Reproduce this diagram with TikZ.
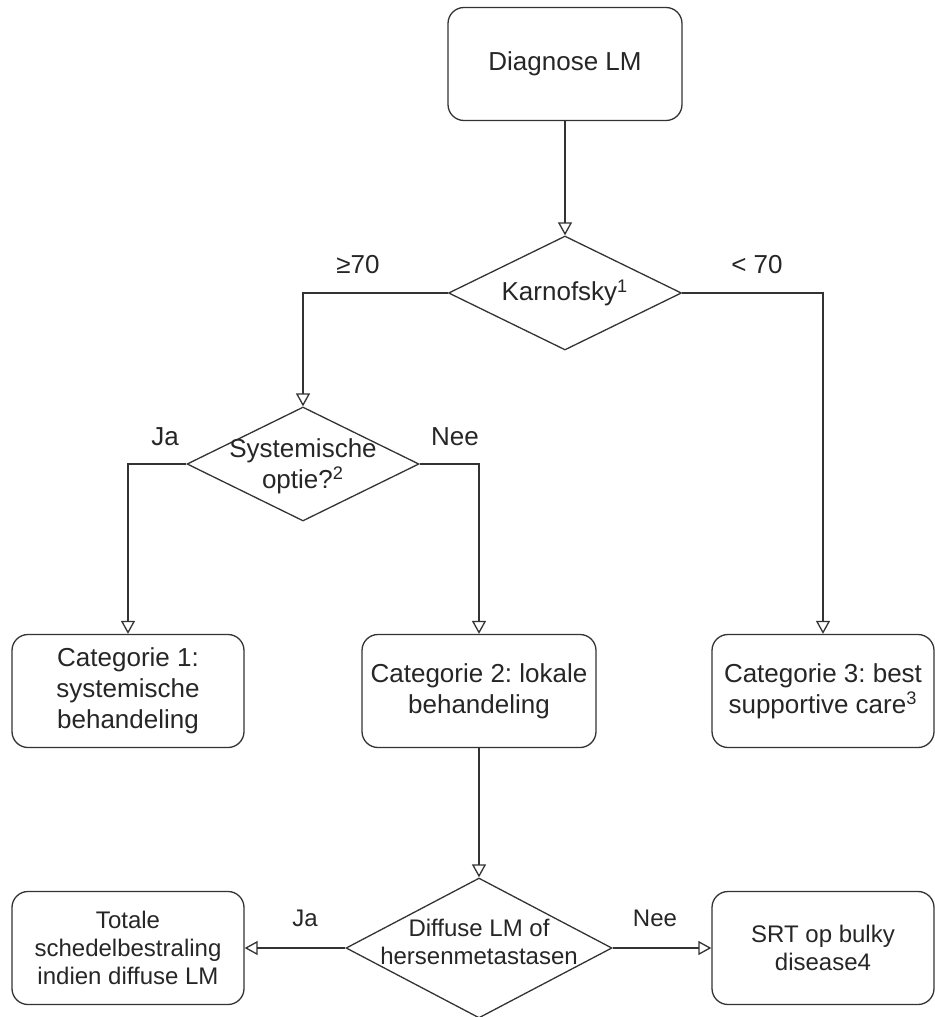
\documentclass[tikz,border=0pt]{standalone}
\usepackage{fontspec}
\setmainfont{Liberation Sans}
\usetikzlibrary{shapes.geometric,arrows.meta}
\frenchspacing
\definecolor{lijn}{RGB}{51,51,51}
\tikzset{
 box/.style={draw=lijn, rounded corners=8pt, align=center, line width=0.65pt,
  minimum height=56.5pt, inner sep=2pt},
 decision/.style={draw=lijn, diamond, line width=0.65pt, inner sep=0pt},
 pijl/.style={draw=lijn, line width=0.65pt, -{Triangle[open,length=6.5pt,width=7pt]}},
 klein/.style={font=\fontsize{12}{14}\selectfont}
}
\begin{document}
\begin{tikzpicture}[x=0.5pt, y=-0.5pt, font=\fontsize{13}{15.5}\selectfont, text=black!85]
\useasboundingbox (0,0) rectangle (934,1017);
\node[box, minimum width=117pt] (diag) at (565,64) {Diagnose LM};
\node[decision, minimum width=116.5pt, minimum height=57pt,
 label={center:Karnofsky\textsuperscript{1}}] (karn) at (565,293) {};
\node[decision, minimum width=116pt, minimum height=57pt,
 label={[align=center, yshift=-1pt]center:Systemische\\optie?\textsuperscript{2}}] (sys) at (303,464) {};
\node[box, minimum width=116pt] (cat1) at (128,691) {Categorie 1:\\systemische\\behandeling};
\node[box, minimum width=117pt] (cat2) at (479,691) {Categorie 2: lokale\\behandeling};
\node[box, minimum width=111pt] (cat3) at (823,691) {Categorie 3: best\\supportive care\textsuperscript{3}};
\node[decision, minimum width=133pt, minimum height=70pt,
 label={[align=center, yshift=3pt, font=\fontsize{12}{14}\selectfont]center:Diffuse LM of\\hersenmetastasen}] (diff) at (479,948) {};
\node[box, klein, minimum width=116pt] (tot) at (128,948) {Totale\\schedelbestraling\\indien diffuse LM};
\node[box, klein, minimum width=111pt] (srt) at (823,948) {SRT op bulky\\disease4};

\draw[pijl] (diag) -- (karn);
\draw[pijl] (karn.west) -| (sys.north);
\draw[pijl] (karn.east) -| (cat3.north);
\draw[pijl] (sys.west) -| (cat1.north);
\draw[pijl] (sys.east) -| (cat2.north);
\draw[pijl] (cat2) -- (diff);
\draw[pijl] (diff.west) -- (tot.east);
\draw[pijl] (diff.east) -- (srt.west);

\foreach \x/\y/\txt [count=\i] in {358/265/{≥70}, 757/265/{< 70}, 165/437/Ja, 455/437/Nee}
 \node (lbl\i) at (\x,\y) {\txt};
\foreach \x/\y/\txt [count=\i] in {305/918/Ja, 655/918/Nee}
 \node[klein] (onder\i) at (\x,\y) {\txt};
\end{tikzpicture}
\end{document}
